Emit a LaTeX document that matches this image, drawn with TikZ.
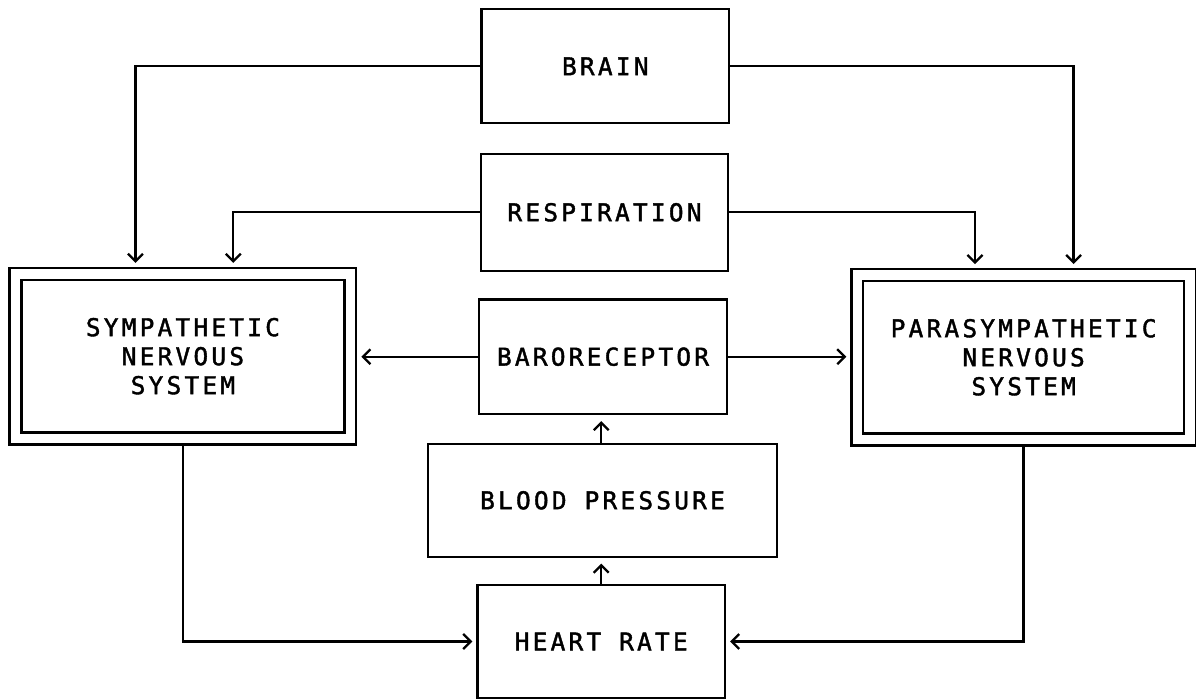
\documentclass[tikz,border=0pt]{standalone}
\usepackage{fontspec}
\setmainfont{DejaVu Sans Mono}[LetterSpace=13, FakeBold=1.6]
\usetikzlibrary{arrows.meta}
\newcommand\boxfont{\fontsize{24.5pt}{29pt}\selectfont}
\begin{document}
\begin{tikzpicture}[x=1pt,y=-1pt,
  box/.style={draw, line width=2.3pt, inner sep=0pt, outer sep=0pt, font=\boxfont, align=center},
  dbox/.style={box, double, double distance=9.6pt, outer sep=6pt},
  arr/.style={line width=2.3pt, -{Straight Barb[length=7.5pt,width=15pt,line width=2.3pt]}, shorten >=5pt}]
\useasboundingbox (0,0) rectangle (1196,699);
\node[box, minimum width=247.5pt, minimum height=114pt] (brain) at (605.3,66.3) {BRAIN};
\node[box, minimum width=247.6pt, minimum height=116.7pt] (resp) at (604.5,212.3) {RESPIRATION};
\node[box, minimum width=247.4pt, minimum height=114.7pt] (baro) at (603,356.7) {BARORECEPTOR};
\node[box, minimum width=348.4pt, minimum height=112.7pt] (bp) at (602.5,500.3) {BLOOD PRESSURE};
\node[box, minimum width=247.7pt, minimum height=113pt] (hr) at (601.2,641.5) {HEART RATE};
\node[dbox, minimum width=334.8pt, minimum height=164.7pt] (symp) at (182.9,356.2) {SYMPATHETIC\\NERVOUS\\SYSTEM};
\node[dbox, minimum width=332.5pt, minimum height=164.5pt] (para) at (1023.6,357.3) {PARASYMPATHETIC\\NERVOUS\\SYSTEM};
\draw[arr] (brain.west) -| ([xshift=-47.5pt]symp.north);
\draw[arr] (resp.west) -| ([xshift=50.4pt]symp.north);
\draw[arr] (resp.east) -| ([xshift=-48.6pt]para.north);
\draw[arr] (brain.east) -| ([xshift=50pt]para.north);
\draw[arr] (baro.west) -- (baro.west -| symp.east);
\draw[arr] (baro.east) -- (baro.east -| para.west);
\draw[arr, shorten >=7pt] (hr.north) -- (hr.north |- bp.south);
\draw[arr, shorten >=7pt] (bp.north -| hr.north) -- (hr.north |- baro.south);
\draw[arr] (symp.south) |- (hr.west);
\draw[arr] (para.south) |- (hr.east);
\end{tikzpicture}
\end{document}
